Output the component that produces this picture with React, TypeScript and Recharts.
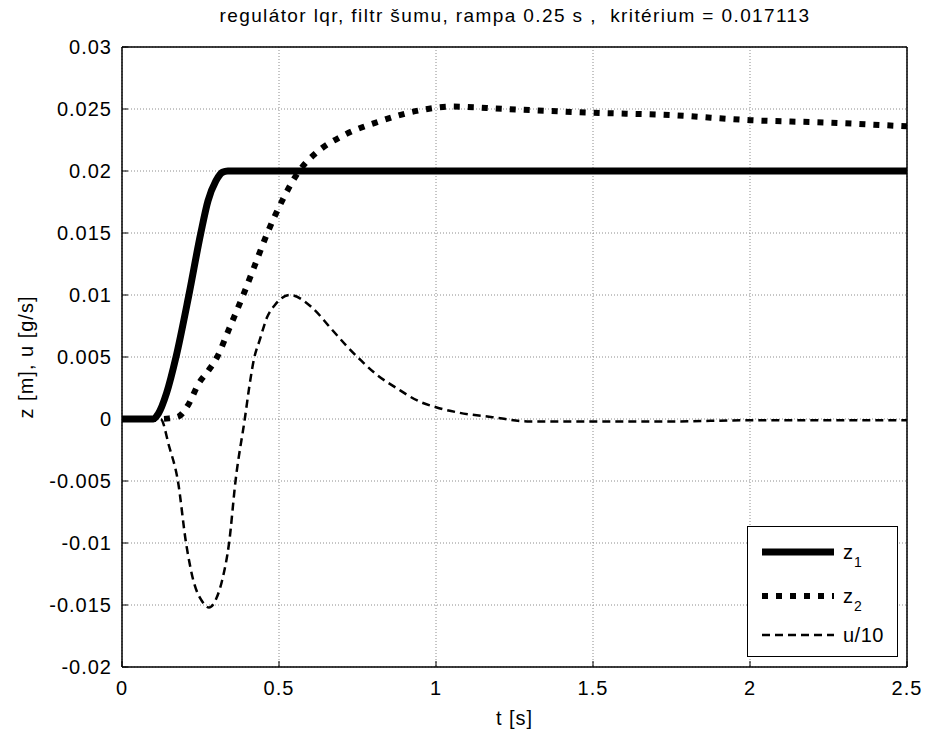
import React from "react";
import {
  LineChart,
  Line,
  XAxis,
  YAxis,
  CartesianGrid,
  ReferenceArea,
} from "recharts";

const titleText = "regulátor lqr, filtr šumu, rampa 0.25 s ,  kritérium = 0.017113";

const xTicks = [0, 0.5, 1, 1.5, 2, 2.5];
const xTickLabels = ["0", "0.5", "1", "1.5", "2", "2.5"];
const yTicks = [-0.02, -0.015, -0.01, -0.005, 0, 0.005, 0.01, 0.015, 0.02, 0.025, 0.03];
const yTickLabels = ["-0.02", "-0.015", "-0.01", "-0.005", "0", "0.005", "0.01", "0.015", "0.02", "0.025", "0.03"];

// z1 - reference ramp
const tZ1 = [0, 0.1, 0.115, 0.142, 0.172, 0.213, 0.251, 0.274, 0.299, 0.32, 0.337, 2.5];
const z1 = [0, 0, 0.0004, 0.0021, 0.005, 0.01, 0.015, 0.0176, 0.0192, 0.0199, 0.02, 0.02];

// z2 - level
const tZ2 = [0, 0.12, 0.15, 0.18, 0.21, 0.245, 0.275, 0.303, 0.34, 0.386, 0.42, 0.463, 0.51, 0.564, 0.62, 0.7, 0.82, 0.95, 1.05, 1.22, 1.5, 1.75, 2, 2.25, 2.5];
const z2 = [0, 0, 0.00005, 0.0002, 0.0011, 0.0029, 0.0039, 0.005, 0.0072, 0.01, 0.0122, 0.015, 0.0176, 0.02, 0.0215, 0.0228, 0.024, 0.0249, 0.0252, 0.025, 0.0247, 0.0245, 0.0241, 0.0239, 0.0236];

// u/10 - control
const tU = [0, 0.1, 0.123, 0.15, 0.178, 0.204, 0.227, 0.255, 0.277, 0.3, 0.319, 0.341, 0.362, 0.391, 0.409, 0.42, 0.439, 0.462, 0.487, 0.534, 0.609, 0.662, 0.715, 0.762, 0.81, 0.874, 0.948, 1.0, 1.075, 1.18, 1.3, 1.5, 1.75, 2.0, 2.25, 2.5];
const u = [0, 0, 0, -0.0022, -0.005, -0.01, -0.013, -0.0147, -0.0152, -0.0145, -0.013, -0.01, -0.0049, 0, 0.0032, 0.0048, 0.0064, 0.0082, 0.0092, 0.01, 0.0089, 0.0074, 0.0059, 0.0047, 0.0036, 0.0025, 0.0014, 0.00095, 0.0005, 0.00015, -0.0002, -0.0002, -0.0002, -0.0001, -0.0001, -0.0001];

const z1Data = tZ1.map((t, i) => ({ t, v: z1[i] }));
const z2Data = tZ2.map((t, i) => ({ t, v: z2[i] }));
const uData = tU.map((t, i) => ({ t, v: u[i] }));

const font = "Arial, 'Liberation Sans', sans-serif";
const fs = 20;

const LegendBox = () => (
  <svg width={151} height={131} style={{ display: "block" }}>
    <rect x={0.5} y={0.5} width={150} height={130} fill="#fff" stroke="#000" strokeWidth={1} />
    <line x1={15} x2={87} y1={26} y2={26} stroke="#000" strokeWidth={7} />
    <text x={96} y={33} fontSize={fs} fontFamily={font}>z</text>
    <text x={107} y={41} fontSize={14} fontFamily={font}>1</text>
    <line x1={15} x2={87} y1={70} y2={70} stroke="#000" strokeWidth={6} strokeDasharray="6 8" />
    <text x={96} y={77} fontSize={fs} fontFamily={font}>z</text>
    <text x={107} y={85} fontSize={14} fontFamily={font}>2</text>
    <line x1={15} x2={87} y1={109} y2={109} stroke="#000" strokeWidth={2.5} strokeDasharray="8 5" />
    <text x={96} y={116} fontSize={fs} fontFamily={font} letterSpacing={0.5}>u/10</text>
  </svg>
);

const yFmt = (v: number) => {
  const i = yTicks.findIndex((y) => Math.abs(y - v) < 1e-9);
  return i >= 0 ? yTickLabels[i] : "";
};

const tickStyle = { fontSize: fs, fill: "#000", fontFamily: font, letterSpacing: 1 };

export default function App() {
  return (
    <div style={{ position: "absolute", left: 0, top: 0, width: 931, height: 735, background: "#fff", fontFamily: font }}>
      <div style={{ position: "absolute", left: 0, top: 5, width: 1030, textAlign: "center", fontSize: 19, letterSpacing: 1.4, whiteSpace: "pre" }}>
        {titleText}
      </div>
      <LineChart
        width={931}
        height={735}
        margin={{ top: 46, right: 23, left: 62, bottom: 28 }}
      >
        <CartesianGrid
          xAxisId="b"
          yAxisId="l"
          stroke="#8c8c8c"
          strokeDasharray="1 2"
          strokeWidth={1}
          horizontalValues={yTicks}
          verticalValues={xTicks}
        />
        <XAxis
          xAxisId="b"
          type="number"
          dataKey="t"
          domain={[0, 2.5]}
          ticks={xTicks}
          tickFormatter={(v: number) => xTickLabels[xTicks.indexOf(v)] ?? ""}
          allowDataOverflow
          height={40}
          stroke="#000"
          tickSize={-6}
          tickMargin={20}
          tick={tickStyle}
          label={{ value: "t [s]", position: "insideBottom", offset: -18, fontSize: fs, fill: "#000", fontFamily: font, letterSpacing: 1 }}
        />
        <XAxis
          xAxisId="t"
          orientation="top"
          type="number"
          dataKey="t"
          domain={[0, 2.5]}
          ticks={xTicks}
          tickFormatter={() => ""}
          height={1}
          stroke="#000"
          tickSize={-6}
          tickMargin={0}
        />
        <YAxis
          yAxisId="l"
          type="number"
          domain={[-0.02, 0.03]}
          ticks={yTicks}
          tickFormatter={yFmt}
          allowDataOverflow
          width={60}
          stroke="#000"
          tickSize={-6}
          tickMargin={16}
          tick={tickStyle}
          label={{ value: "z [m], u [g/s]", angle: -90, position: "insideLeft", offset: -36, fontSize: fs, fill: "#000", fontFamily: font, letterSpacing: 1, style: { textAnchor: "middle" } }}
        />
        <YAxis
          yAxisId="r"
          orientation="right"
          type="number"
          domain={[-0.02, 0.03]}
          ticks={yTicks}
          tickFormatter={() => ""}
          width={1}
          stroke="#000"
          tickSize={-6}
          tickMargin={0}
        />
        <ReferenceArea
          xAxisId="b"
          yAxisId="l"
          x1={0}
          x2={2.5}
          y1={-0.02}
          y2={0.03}
          fill="none"
          stroke="#000"
          strokeWidth={1}
          ifOverflow="visible"
        />
        <Line
          xAxisId="b"
          yAxisId="l"
          data={z1Data}
          dataKey="v"
          type="monotone"
          stroke="#000"
          strokeWidth={7}
          dot={false}
          isAnimationActive={false}
        />
        <Line
          xAxisId="b"
          yAxisId="l"
          data={z2Data}
          dataKey="v"
          type="monotone"
          stroke="#000"
          strokeWidth={6}
          strokeDasharray="6 8"
          dot={false}
          isAnimationActive={false}
        />
        <Line
          xAxisId="b"
          yAxisId="l"
          data={uData}
          dataKey="v"
          type="monotone"
          stroke="#000"
          strokeWidth={2.5}
          strokeDasharray="8 5"
          dot={false}
          isAnimationActive={false}
        />
      </LineChart>
      <div style={{ position: "absolute", left: 747, top: 526 }}>
        <LegendBox />
      </div>
    </div>
  );
}
